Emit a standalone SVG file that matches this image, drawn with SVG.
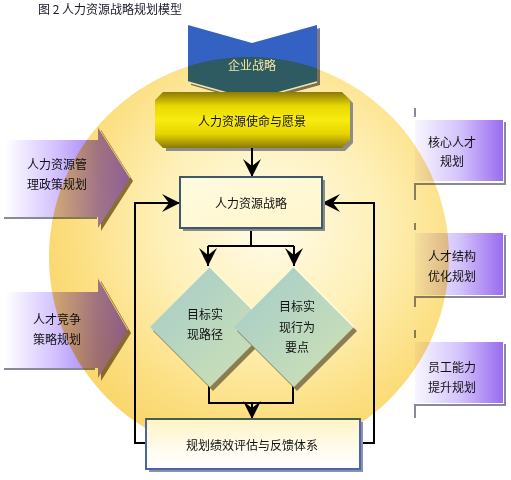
<svg xmlns="http://www.w3.org/2000/svg" width="511" height="480" viewBox="0 0 511 480">
<defs>
<style>
text{font-family:"Noto Sans CJK SC","Liberation Sans",sans-serif;font-size:12px;fill:#111;text-anchor:middle}
.conn{fill:none;stroke:#000;stroke-width:2}
.grey{fill:none;stroke:#8a8a96;stroke-width:2}
</style>
<marker id="ah" markerUnits="userSpaceOnUse" markerWidth="18" markerHeight="18" refX="18" refY="9" orient="auto"><path d="M0,0 L18,9 L0,18 L7,9 z" fill="#000"/></marker>
<clipPath id="discclip"><circle cx="249" cy="257" r="200"/></clipPath>
<radialGradient id="circ" cx="0.55" cy="0.42" r="0.6">
<stop offset="0" stop-color="#fffcea"/>
<stop offset="0.45" stop-color="#fef0b8"/>
<stop offset="0.8" stop-color="#fcdf82"/>
<stop offset="1" stop-color="#f9d66a"/>
</radialGradient>
<linearGradient id="lpurp" x1="0" y1="0" x2="1" y2="0">
<stop offset="0" stop-color="#ffffff"/>
<stop offset="0.4" stop-color="#d4c2ff"/>
<stop offset="0.75" stop-color="#a282f4"/>
<stop offset="1" stop-color="#9066ee"/>
</linearGradient>
<linearGradient id="rpurp" x1="0" y1="0" x2="1" y2="0">
<stop offset="0" stop-color="#f8f6ff"/>
<stop offset="0.5" stop-color="#d4c4fb"/>
<stop offset="1" stop-color="#9a6cf0"/>
</linearGradient>
<linearGradient id="gold" x1="0" y1="0" x2="0" y2="1">
<stop offset="0" stop-color="#8c7a08"/>
<stop offset="0.25" stop-color="#e8d800"/>
<stop offset="0.5" stop-color="#f8ec10"/>
<stop offset="0.75" stop-color="#e6d400"/>
<stop offset="1" stop-color="#8a7806"/>
</linearGradient>
<linearGradient id="dia" x1="0" y1="0" x2="1" y2="1">
<stop offset="0" stop-color="#a2cccc"/>
<stop offset="1" stop-color="#d2e2b2"/>
</linearGradient>
<linearGradient id="strat" x1="0" y1="0" x2="1" y2="1">
<stop offset="0" stop-color="#fffbe0"/>
<stop offset="1" stop-color="#fff6cc"/>
</linearGradient>
<linearGradient id="eval" x1="0" y1="0" x2="0" y2="1">
<stop offset="0" stop-color="#fff4c4"/>
<stop offset="0.6" stop-color="#fffbee"/>
<stop offset="1" stop-color="#ffffff"/>
</linearGradient>
</defs>

<text x="110" y="14" style="font-size:12px;fill:#1a1a2a">图 2  人力资源战略规划模型</text>

<g id="left-policy">
<polygon points="101,130 133,181 101,231" fill="#8a7a58"/>
<polygon points="5,140 98,140 98,127 130,178 98,228 98,217 5,217" fill="url(#lpurp)"/>
<line x1="98" y1="127" x2="130" y2="178" stroke="#f4ecc0" stroke-width="1"/>
<line x1="4" y1="218" x2="97" y2="218" class="grey"/>
<text x="57" y="169">人力资源管</text>
<text x="57" y="189">理政策规划</text>
</g>

<g id="left-compete">
<polygon points="101,281 131,333 101,381" fill="#8a7a58"/>
<polygon points="5,292 98,292 98,278 128,330 98,378 98,368 5,368" fill="url(#lpurp)"/>
<line x1="98" y1="278" x2="128" y2="330" stroke="#f4ecc0" stroke-width="1"/>
<line x1="4" y1="369" x2="95" y2="369" class="grey"/>
<text x="57" y="324">人才竞争</text>
<text x="57" y="344">策略规划</text>
</g>

<g id="right-core">
<path d="M415,108 V117" class="grey"/>
<rect x="415" y="120" width="88" height="61" fill="url(#rpurp)"/>
<path d="M505,122 V184 H415 V200" class="grey"/>
<text x="452" y="147">核心人才</text>
<text x="452" y="166">规划</text>
</g>

<g id="right-structure">
<path d="M415,223 V230" class="grey"/>
<rect x="415" y="233" width="88" height="62" fill="url(#rpurp)"/>
<path d="M505,235 V297 H415 V307" class="grey"/>
<text x="452" y="261">人才结构</text>
<text x="452" y="281">优化规划</text>
</g>

<g id="right-ability">
<path d="M415,330 V338" class="grey"/>
<rect x="415" y="342" width="88" height="61" fill="url(#rpurp)"/>
<path d="M505,344 V405 H415 V418" class="grey"/>
<text x="452" y="372">员工能力</text>
<text x="452" y="392">提升规划</text>
</g>

<g id="enterprise-strategy">
<polygon points="191,28 254,46 320,28 320,85 254,103 191,85" fill="#7a7a88"/>
<polygon points="188,25 252,43 317,25 317,82 252,100 188,82" fill="#3462c2"/>
</g>

<circle id="disc" cx="249" cy="257" r="200" fill="url(#circ)" style="mix-blend-mode:multiply"/>

<g id="enterprise-strategy-overlay" clip-path="url(#discclip)">
<polygon points="188,25 252,43 317,25 317,82 252,100 188,82" fill="#2e5a62"/>
</g>
<polyline points="188,82 252,100 317,82" fill="none" stroke="#f2e8a8" stroke-width="1.5"/>
<text x="252" y="70" style="fill:#f3e6a6">企业战略</text>

<g id="mission">
<polygon points="166,95 345,95 353,103 353,143 345,151 166,151" fill="#8c8c8c"/>
<polygon points="163,92 342,92 350,100 350,140 342,148 163,148 155,140 155,100" fill="url(#gold)"/>
<text x="252" y="126">人力资源使命与愿景</text>
</g>

<g id="connectors">
<path d="M252,148 V177" class="conn" marker-end="url(#ah)"/>
<path d="M251,228 V246 M208,246 H294" class="conn"/>
<path d="M208,246 V266" class="conn" marker-end="url(#ah)"/>
<path d="M294,246 V266" class="conn" marker-end="url(#ah)"/>
<path d="M209,386 V403 H293 V386" class="conn"/>
<path d="M252,403 V419" class="conn" marker-end="url(#ah)"/>
<path d="M146,443 H135 V203 H180" class="conn" marker-end="url(#ah)"/>
<path d="M360,443 H374 V203 H322" class="conn" marker-end="url(#ah)"/>
</g>

<g id="hr-strategy">
<rect x="183" y="180" width="142" height="51" fill="#8a8a8a"/>
<rect x="180" y="177" width="142" height="51" fill="url(#strat)" stroke="#3d5868" stroke-width="2"/>
<text x="251" y="208">人力资源战略</text>
</g>

<g id="goal-path">
<polygon points="213,271 273,331 213,391 153,331" fill="#8a7d50"/>
<polygon points="210,267 270,327 210,387 150,327" fill="url(#dia)"/>
<line x1="210" y1="267" x2="270" y2="327" stroke="#fffbe0" stroke-width="1.2"/>
<text x="205" y="319">目标实</text>
<text x="205" y="339">现路径</text>
</g>

<g id="goal-behavior">
<polygon points="297,271 357,331 297,391 237,331" fill="#8a7d50"/>
<polygon points="294,267 354,327 294,387 234,327" fill="url(#dia)"/>
<line x1="294" y1="267" x2="354" y2="327" stroke="#fffbe0" stroke-width="1.5"/>
<text x="297" y="311">目标实</text>
<text x="297" y="332">现行为</text>
<text x="297" y="352">要点</text>
</g>

<g id="evaluation">
<rect x="149" y="422" width="214" height="50" fill="#8a92b0"/>
<rect x="146" y="419" width="214" height="50" fill="url(#eval)" stroke="#4a66aa" stroke-width="2"/>
<line x1="146" y1="419" x2="360" y2="419" stroke="#44604c" stroke-width="2"/>
<text x="252" y="450">规划绩效评估与反馈体系</text>
</g>
</svg>
